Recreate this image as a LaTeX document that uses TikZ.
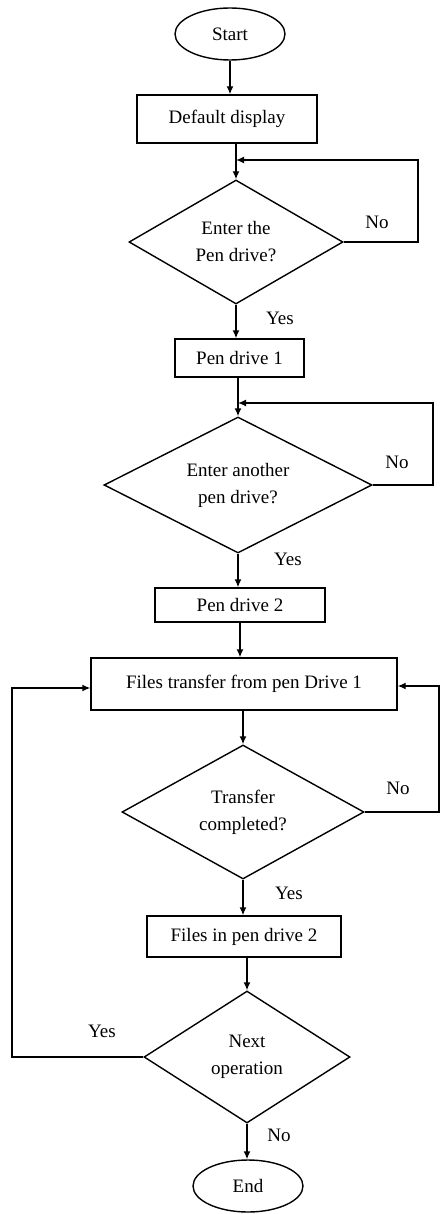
\documentclass[tikz,border=0pt]{standalone}
\usepackage{fontspec}
\setmainfont{Liberation Serif}
\usetikzlibrary{shapes.geometric,arrows.meta}
\begin{document}
\begin{tikzpicture}[x=1pt,y=-1pt,
  every node/.style={font=\fontsize{19}{27}\selectfont},
  line/.style={draw=black,line width=1.4pt},
  arr/.style={line,-{Latex[length=8pt,width=7pt]}},
  term/.style={line,ellipse,minimum width=110pt,minimum height=52pt,inner sep=0pt},
  proc/.style={line,rectangle,inner sep=0pt,align=center},
  dia/.style={line,diamond,aspect=2,inner sep=0pt,align=center},
  lbl/.style={inner sep=0pt}]
\useasboundingbox (0,0) rectangle (440,1214);
% nodes
\node[term] (start) at (230,34) {Start};
\node[proc,minimum width=180pt,minimum height=48pt] (dd) at (227,119) {Default display};
\node[dia,minimum width=214pt,minimum height=124pt] (d1) at (236,242) {Enter the\\Pen drive?};
\node[proc,minimum width=129pt,minimum height=38pt] (p1) at (239.5,358) {Pen drive 1};
\node[dia,minimum width=268pt,minimum height=136pt] (d2) at (238,485) {Enter another\\pen drive?};
\node[proc,minimum width=170pt,minimum height=34pt] (p2) at (240,605) {Pen drive 2};
\node[proc,minimum width=306pt,minimum height=52pt] (ft) at (244,684) {Files transfer from pen Drive 1};
\node[dia,minimum width=242pt,minimum height=134pt] (d3) at (243,812) {Transfer\\completed?};
\node[proc,minimum width=194pt,minimum height=41pt] (fp2) at (244,936.5) {Files in pen drive 2};
\node[dia,minimum width=206pt,minimum height=132pt] (d4) at (247,1057) {Next\\operation};
\node[term] (end) at (248,1186) {End};
% loop coordinates
\coordinate (l1) at (418,160);
\coordinate (j1) at (236,160);
\coordinate (l2) at (433,403);
\coordinate (j2) at (238,403);
\coordinate (l3) at (439,686);
\coordinate (l4) at (12,688);
% connectors
\draw[arr] (start.south) -- (start.south |- dd.north);
\draw[arr] (d1.north |- dd.south) -- (d1.north);
\draw[arr] (d1.east) -- (d1.east -| l1) -- (l1) -- (j1);
\draw[arr] (d1.south) -- (d1.south |- p1.north);
\draw[arr] (d2.north |- p1.south) -- (d2.north);
\draw[arr] (d2.east) -- (d2.east -| l2) -- (l2) -- (j2);
\draw[arr] (d2.south) -- (d2.south |- p2.north);
\draw[arr] (p2.south) -- (p2.south |- ft.north);
\draw[arr] (d3.north |- ft.south) -- (d3.north);
\draw[arr] (d3.east) -- (d3.east -| l3) -- (l3) -- (l3 -| ft.east);
\draw[arr] (d3.south) -- (d3.south |- fp2.north);
\draw[arr] (d4.north |- fp2.south) -- (d4.north);
\draw[arr] (d4.west) -- (d4.west -| l4) -- (l4) -- (l4 -| ft.west);
\draw[arr] (d4.south) -- (d4.south |- end.north);
% labels
\node[lbl] (no1) at (377,222) {No};
\node[lbl] (yes1) at (280,318) {Yes};
\node[lbl] (no2) at (397,462) {No};
\node[lbl] (yes2) at (288,559) {Yes};
\node[lbl] (no3) at (398,788) {No};
\node[lbl] (yes3) at (289,893) {Yes};
\node[lbl] (yes4) at (102,1031) {Yes};
\node[lbl] (no4) at (279,1135) {No};
\end{tikzpicture}
\end{document}
